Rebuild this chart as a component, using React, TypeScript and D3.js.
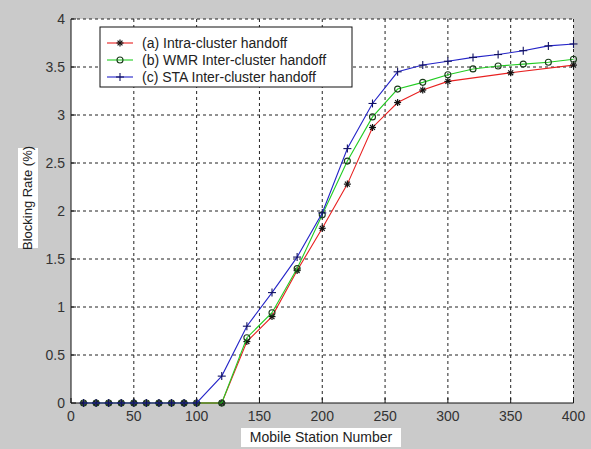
import React from "react";
import * as d3 from "d3";

const xTicks = [0, 50, 100, 150, 200, 250, 300, 350, 400];
const yTicks = [0, 0.5, 1, 1.5, 2, 2.5, 3, 3.5, 4];
const yTickLabels = ["0", "0.5", "1", "1.5", "2", "2.5", "3", "3.5", "4"];

const redX = [10, 20, 30, 40, 50, 60, 70, 80, 90, 100, 120, 140, 160, 180, 200, 220, 240, 260, 280, 300, 350, 400];
const redY = [0, 0, 0, 0, 0, 0, 0, 0, 0, 0, 0, 0.64, 0.9, 1.38, 1.82, 2.28, 2.87, 3.13, 3.26, 3.35, 3.44, 3.52];

const greenX = [10, 20, 30, 40, 50, 60, 70, 80, 90, 100, 120, 140, 160, 180, 200, 220, 240, 260, 280, 300, 320, 340, 360, 380, 400];
const greenY = [0, 0, 0, 0, 0, 0, 0, 0, 0, 0, 0, 0.68, 0.94, 1.4, 1.96, 2.52, 2.98, 3.27, 3.34, 3.42, 3.48, 3.51, 3.53, 3.55, 3.58];

const blueX = [10, 20, 30, 40, 50, 60, 70, 80, 90, 100, 120, 140, 160, 180, 200, 220, 240, 260, 280, 300, 320, 340, 360, 380, 400];
const blueY = [0, 0, 0, 0, 0, 0, 0, 0, 0, 0, 0.28, 0.8, 1.15, 1.52, 1.98, 2.65, 3.12, 3.45, 3.52, 3.56, 3.6, 3.63, 3.67, 3.72, 3.74];

const legendLabels = ["(a) Intra-cluster handoff", "(b) WMR Inter-cluster handoff", "(c) STA Inter-cluster handoff"];

const W = 591;
const H = 449;
const L = 71, R = 573.5, T = 19, B = 403;
const FONT = "'Liberation Sans', Arial, sans-serif";

type Pt = [number, number];

function Star({ cx, cy, s, c }: { cx: number; cy: number; s: number; c: string }) {
  const d = s * 0.7;
  return (
    <g stroke={c} strokeWidth={1.2}>
      <line x1={cx - s} y1={cy} x2={cx + s} y2={cy} />
      <line x1={cx} y1={cy - s} x2={cx} y2={cy + s} />
      <line x1={cx - d} y1={cy - d} x2={cx + d} y2={cy + d} />
      <line x1={cx - d} y1={cy + d} x2={cx + d} y2={cy - d} />
    </g>
  );
}
function Plus({ cx, cy, s, c }: { cx: number; cy: number; s: number; c: string }) {
  return (
    <g stroke={c} strokeWidth={1.1}>
      <line x1={cx - s} y1={cy} x2={cx + s} y2={cy} />
      <line x1={cx} y1={cy - s} x2={cx} y2={cy + s} />
    </g>
  );
}
function Circ({ cx, cy, s, c }: { cx: number; cy: number; s: number; c: string }) {
  return <circle cx={cx} cy={cy} r={s} fill="none" stroke={c} strokeWidth={1.1} />;
}

export default function App() {
  const x = d3.scaleLinear().domain([0, 400]).range([L, R]);
  const y = d3.scaleLinear().domain([0, 4]).range([B, T]);
  const line = d3.line<Pt>().x((d) => x(d[0])).y((d) => y(d[1]));

  const series = [
    { xs: redX, ys: redY, color: "#e82020", mk: "star", mc: "#111" },
    { xs: greenX, ys: greenY, color: "#22cc22", mk: "circ", mc: "#1a3a1a" },
    { xs: blueX, ys: blueY, color: "#2424c8", mk: "plus", mc: "#101060" },
  ];

  const marker = (mk: string, cx: number, cy: number, mc: string, key: any) => {
    if (mk === "star") return <Star key={key} cx={cx} cy={cy} s={3.5} c={mc} />;
    if (mk === "circ") return <Circ key={key} cx={cx} cy={cy} s={3} c={mc} />;
    return <Plus key={key} cx={cx} cy={cy} s={4} c={mc} />;
  };

  const legX = 100, legY = 27, legW = 252, legH = 60;
  const rowY = [43, 60, 77];

  return (
    <svg width={W} height={H} style={{ position: "absolute", left: 0, top: 0 }} fontFamily={FONT}>
      <rect x={0} y={0} width={W} height={H} fill="#cacaca" />
      <rect x={L} y={T} width={R - L} height={B - T} fill="#ffffff" />
      {/* grid */}
      <g stroke="#222" strokeWidth={1} strokeDasharray="3,3">
        {xTicks.filter((t) => t > 0).map((t) => (
          <line key={"gx" + t} x1={x(t)} x2={x(t)} y1={T} y2={B} />
        ))}
        {yTicks.filter((t) => t > 0).map((t) => (
          <line key={"gy" + t} x1={L} x2={R} y1={y(t)} y2={y(t)} />
        ))}
      </g>
      {/* axes */}
      <g stroke="#111" strokeWidth={1}>
        <line x1={L} x2={L} y1={T} y2={B} />
        <line x1={L} x2={R} y1={B} y2={B} />
        {xTicks.map((t) => (
          <line key={"tx" + t} x1={x(t)} x2={x(t)} y1={B} y2={B - 5} />
        ))}
        {yTicks.map((t) => (
          <line key={"ty" + t} x1={L} x2={L + 5} y1={y(t)} y2={y(t)} />
        ))}
      </g>
      {/* tick labels */}
      <g fontSize={14} fill="#333">
        {xTicks.map((t) => (
          <text key={"lx" + t} x={x(t)} y={421} textAnchor="middle">{t}</text>
        ))}
        {yTicks.map((t, i) => (
          <text key={"ly" + t} x={65} y={y(t) + 5} textAnchor="end">{yTickLabels[i]}</text>
        ))}
      </g>
      {/* series */}
      {series.map((s, si) => {
        const pts: Pt[] = s.xs.map((v, i) => [v, s.ys[i]]);
        return (
          <g key={"s" + si}>
            <path d={line(pts) || ""} fill="none" stroke={s.color} strokeWidth={1.1} />
            {pts.map((p, i) => marker(s.mk, x(p[0]), y(p[1]), s.mc, i))}
          </g>
        );
      })}
      {/* legend */}
      <rect x={legX} y={legY} width={legW} height={legH} fill="#fff" stroke="#111" strokeWidth={1} />
      {series.map((s, i) => (
        <g key={"lg" + i}>
          <line x1={107} x2={133} y1={rowY[i]} y2={rowY[i]} stroke={s.color} strokeWidth={1.1} />
          {marker(s.mk, 120, rowY[i], s.mc, "m")}
          <text x={142} y={rowY[i] + 5} fontSize={14} fill="#222">{legendLabels[i]}</text>
        </g>
      ))}
      {/* axis labels */}
      <rect x={241} y={428} width={160} height={19} fill="#fff" />
      <text x={321} y={442} textAnchor="middle" fontSize={14} fill="#222">Mobile Station Number</text>
      <rect x={18} y={148} width={20} height={100} fill="#fff" />
      <text transform="translate(32,198) rotate(-90)" textAnchor="middle" fontSize={13} fill="#222">Blocking Rate (%)</text>
    </svg>
  );
}
